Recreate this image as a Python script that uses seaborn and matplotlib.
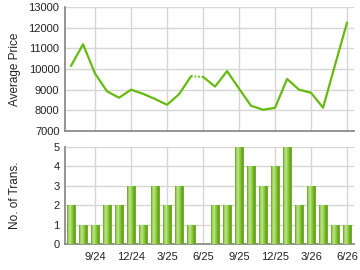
import numpy as np
import pandas as pd
import matplotlib
matplotlib.use("Agg")
import matplotlib.pyplot as plt
import seaborn as sns
from matplotlib.colors import LinearSegmentedColormap

months = ["7/24", "8/24", "9/24", "10/24", "11/24", "12/24", "1/25", "2/25", "3/25", "4/25",
          "5/25", "6/25", "7/25", "8/25", "9/25", "10/25", "11/25", "12/25", "1/26", "2/26",
          "3/26", "4/26", "5/26", "6/26"]
avg_price = [10150, 11200, 9780, 8920, 8610, 9000, 8800, 8550, 8270, 8780,
             9650, 9620, 9150, 9900, 9050, 8220, 8030, 8120, 9520, 9000,
             8850, 8130, 10200, 12250]
transactions = [2, 1, 1, 2, 2, 3, 1, 3, 2, 3, 1, 0, 2, 2, 5, 4, 3, 4, 5, 2, 3, 2, 1, 1]
tick_labels = ["9/24", "12/24", "3/25", "6/25", "9/25", "12/25", "3/26", "6/26"]
price_ticks = [7000, 8000, 9000, 10000, 11000, 12000, 13000]
trans_ticks = [0, 1, 2, 3, 4, 5]
gap_month = "6/25"  # month with no transactions: dotted link into it

sns.set_theme(style="white")
plt.rcParams["font.family"] = ["Liberation Sans", "DejaVu Sans"]

df = pd.DataFrame({"month": months, "price": avg_price, "trans": transactions})
df["pos"] = np.arange(len(df))

fig = plt.figure(figsize=(3.6, 2.7), dpi=100)
ax1 = fig.add_axes([0.1806, 0.5148, 0.8028, 0.4592])
ax2 = fig.add_axes([0.1806, 0.0963, 0.8028, 0.3593])

line_color = "#66bb11"
grid_color = "#d6d6d6"
spine_color = "#8c8c8c"
tick_pos = [months.index(t) for t in tick_labels]

# ---- top: average price
gi = months.index(gap_month)
seg1 = df.iloc[:gi]
seg2 = df.iloc[gi:]
segd = df.iloc[gi - 1:gi + 1]
kw = dict(color=line_color, lw=1.6, zorder=3, solid_capstyle="round", solid_joinstyle="round")
sns.lineplot(data=seg1, x="pos", y="price", ax=ax1, **kw)
sns.lineplot(data=seg2, x="pos", y="price", ax=ax1, **kw)
sns.lineplot(data=segd, x="pos", y="price", ax=ax1, color=line_color, lw=1.5,
             linestyle=(0, (0.8, 0.9)), zorder=3)
ax1.set_ylim(price_ticks[0], price_ticks[-1])
ax1.set_yticks(price_ticks)
ax1.set_xlim(-0.5, len(months) - 0.42)
ax1.set_xticks(tick_pos)
ax1.set_xticklabels([])
ax1.set_ylabel("Average Price", fontsize=8.5, color="#222222")
ax1.set_xlabel("")

# ---- bottom: transactions
sns.barplot(data=df, x="month", y="trans", order=months, ax=ax2, color="#8cc63e",
            width=0.66, saturation=1, edgecolor="#64a51c", linewidth=0.6, zorder=3)
cmap = LinearSegmentedColormap.from_list(
    "bar", ["#5fa018", "#a8d86c", "#bde688", "#94cc48", "#78b72c", "#5c9c14"])
grad = np.linspace(0, 1, 64).reshape(1, -1)
for p in ax2.patches:
    x0, y0 = p.get_x(), p.get_y()
    w, h = p.get_width(), p.get_height()
    if h <= 0:
        p.set_linewidth(0)
        continue
    im = ax2.imshow(grad, cmap=cmap, aspect="auto", extent=[x0, x0 + w, y0, y0 + h],
                    zorder=3.5, interpolation="bilinear")
    im.set_clip_path(p)
ax2.set_ylim(trans_ticks[0], trans_ticks[-1])
ax2.set_yticks(trans_ticks)
ax2.set_xlim(-0.5, len(months) - 0.42)
ax2.set_xticks(tick_pos)
ax2.set_xticklabels(tick_labels)
ax2.set_ylabel("No. of Trans.", fontsize=8.5, color="#222222")
ax2.set_xlabel("")

for ax in (ax1, ax2):
    ax.set_axisbelow(True)
    ax.grid(True, color=grid_color, lw=1.0)
    for s in ("top", "right"):
        ax.spines[s].set_visible(False)
    for s in ("left", "bottom"):
        ax.spines[s].set_color(spine_color)
        ax.spines[s].set_linewidth(1.3)
    ax.tick_params(axis="y", labelsize=8, colors="#222222", length=0, pad=4)
    ax.tick_params(axis="x", labelsize=8, colors="#222222", length=3, width=0.8,
                   direction="out", pad=3)
    ax.tick_params(axis="x", color=spine_color)
    ax.yaxis.set_label_coords(-0.152, 0.5)

fig.savefig("out.png", dpi=100)
